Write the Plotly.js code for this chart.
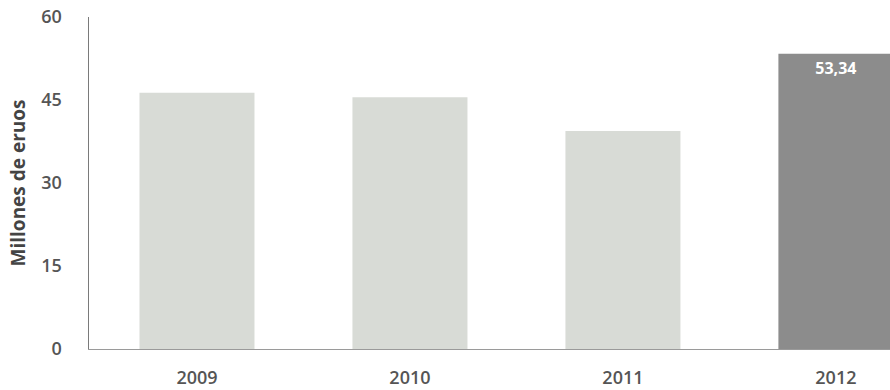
<!DOCTYPE html>
<html>
<head>
<meta charset="utf-8">
<script src="https://cdn.plot.ly/plotly-3.0.1.min.js"></script>
<style>html,body{margin:0;padding:0;background:#fff;}#chart{width:890px;height:390px;}</style>
</head>
<body>
<div id="chart"></div>
<script>
const years = ["2009", "2010", "2011", "2012"];
const values = [46.3, 45.5, 39.4, 53.34];
const labels = ["", "", "", "53,34"];
const barColors = ["#d8dbd6", "#d8dbd6", "#d8dbd6", "#8c8c8c"];
const yTicks = [0, 15, 30, 45, 60];

const trace = {
  type: "bar",
  x: years,
  y: values,
  text: labels,
  textposition: "inside",
  insidetextanchor: "end",
  textangle: 0,
  textfont: {family: "Open Sans, sans-serif", size: 16, color: "#ffffff", weight: "bold"},
  marker: {color: barColors, line: {width: 0}},
  width: 0.54,
  hoverinfo: "none"
};

const layout = {
  width: 890, height: 390,
  margin: {l: 89, r: 0, t: 17, b: 41},
  paper_bgcolor: "#ffffff",
  plot_bgcolor: "#ffffff",
  showlegend: false,
  bargap: 0.46,
  xaxis: {
    type: "category",
    range: [-0.507, 3.254],
    showgrid: false, zeroline: false,
    showline: true, linecolor: "#9a9a9a", linewidth: 1,
    ticks: "",
    ticklabelstandoff: 12,
    tickfont: {family: "Open Sans, sans-serif", size: 18, color: "#555555", weight: 600}
  },
  yaxis: {
    range: [0, 60],
    tickvals: yTicks,
    ticktext: yTicks.map(String),
    showgrid: false, zeroline: false,
    showline: true, linecolor: "#7a7a7a", linewidth: 1.5,
    ticks: "",
    ticklabelstandoff: 22,
    tickfont: {family: "Open Sans, sans-serif", size: 18, color: "#555555", weight: 600},
    title: {text: "Millones de eruos", standoff: 10,
      font: {family: "Open Sans, sans-serif", size: 19, color: "#444444", weight: "bold"}}
  }
};

Plotly.newPlot("chart", [trace], layout, {displayModeBar: false, staticPlot: true});
</script>
</body>
</html>
